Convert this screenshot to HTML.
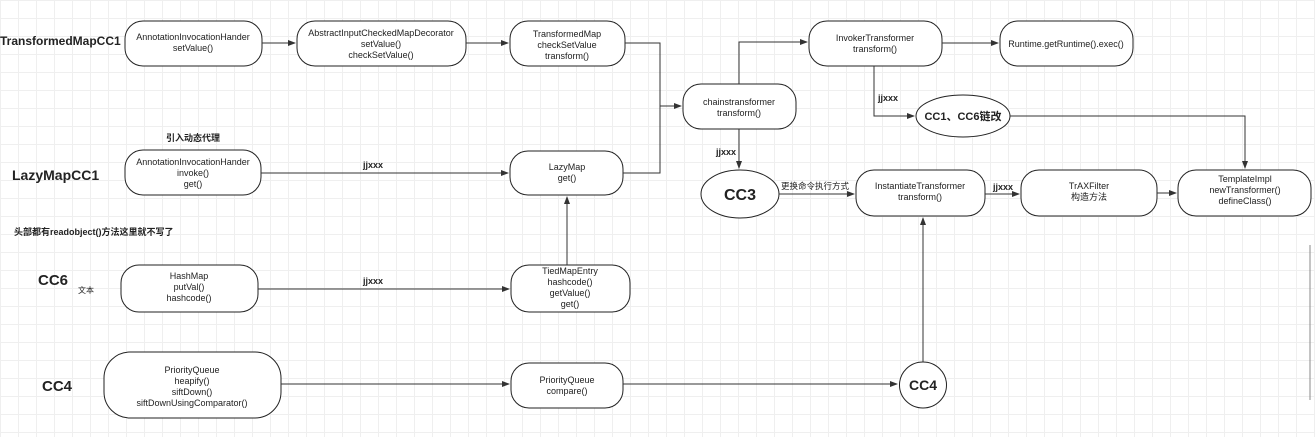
<!DOCTYPE html>
<html><head><meta charset="utf-8"><style>
body{margin:0;width:1315px;height:437px;overflow:hidden;background:#fff;
background-image:linear-gradient(#efefef 1px,transparent 1px),linear-gradient(90deg,#efefef 1px,transparent 1px);background-size:18px 18px;}
svg{position:absolute;left:0;top:0}
text{font-family:"Liberation Sans","Noto Sans CJK SC",sans-serif;font-size:9px;fill:#222}
.b{font-weight:bold;font-size:15px}
.m{font-weight:bold;font-size:9px}
</style></head><body>
<svg width="1315" height="437" viewBox="0 0 1315 437">
<defs><marker id="a" markerWidth="8" markerHeight="8" refX="7" refY="4" orient="auto" markerUnits="userSpaceOnUse"><path d="M0,1 L8,4 L0,7z" fill="#333"/></marker></defs>
<g fill="#fff" stroke="#222" stroke-width="1">
<rect x="125" y="21" width="137" height="45" rx="18"/>
<rect x="297" y="21" width="169" height="45" rx="18"/>
<rect x="510" y="21" width="115" height="45" rx="18"/>
<rect x="683" y="84" width="113" height="45" rx="18"/>
<rect x="809" y="21" width="133" height="45" rx="18"/>
<rect x="1000" y="21" width="133" height="45" rx="18"/>
<ellipse cx="963" cy="116" rx="47" ry="21"/>
<ellipse cx="740" cy="194" rx="39" ry="24"/>
<rect x="856" y="170" width="129" height="46" rx="18"/>
<rect x="1021" y="170" width="136" height="46" rx="18"/>
<rect x="1178" y="170" width="133" height="46" rx="18"/>
<rect x="125" y="150" width="136" height="45" rx="18"/>
<rect x="510" y="151" width="113" height="44" rx="18"/>
<rect x="121" y="265" width="137" height="47" rx="18"/>
<rect x="511" y="265" width="119" height="47" rx="18"/>
<rect x="104" y="352" width="177" height="66" rx="26"/>
<rect x="511" y="363" width="112" height="45" rx="18"/>
<ellipse cx="923" cy="385" rx="23.5" ry="23"/>
</g>
<g fill="none" stroke="#333" stroke-width="1">
<path d="M262,43H295" marker-end="url(#a)"/>
<path d="M466,43H508" marker-end="url(#a)"/>
<path d="M625,43H660V106H681" marker-end="url(#a)"/>
<path d="M623,173H660V106"/>
<path d="M739,84V42H807" marker-end="url(#a)"/>
<path d="M942,43H998" marker-end="url(#a)"/>
<path d="M874,66V116H914" marker-end="url(#a)"/>
<path d="M1010,116H1245V168" marker-end="url(#a)"/>
<path d="M739,129V168" marker-end="url(#a)"/>
<path d="M779,194H854" marker-end="url(#a)"/>
<path d="M985,194H1019" marker-end="url(#a)"/>
<path d="M1157,193H1176" marker-end="url(#a)"/>
<path d="M261,173H508" marker-end="url(#a)"/>
<path d="M258,289H509" marker-end="url(#a)"/>
<path d="M567,265V197" marker-end="url(#a)"/>
<path d="M281,384H509" marker-end="url(#a)"/>
<path d="M623,384H897" marker-end="url(#a)"/>
<path d="M923,362V218" marker-end="url(#a)"/>
</g>
<line x1="1310" y1="245" x2="1310" y2="400" stroke="#888"/>
<g text-anchor="middle">
<text x="193" y="40">AnnotationInvocationHander</text><text x="193" y="51">setValue()</text>
<text x="381" y="36">AbstractInputCheckedMapDecorator</text><text x="381" y="47">setValue()</text><text x="381" y="58">checkSetValue()</text>
<text x="567" y="37">TransformedMap</text><text x="567" y="48">checkSetValue</text><text x="567" y="59">transform()</text>
<text x="739" y="105">chainstransformer</text><text x="739" y="116">transform()</text>
<text x="875" y="41">InvokerTransformer</text><text x="875" y="52">transform()</text>
<text x="1066" y="47">Runtime.getRuntime().exec()</text>
<text x="963" y="120" class="m" style="font-size:11px">CC1、CC6链改</text>
<text x="740" y="200" class="b" style="font-size:16px">CC3</text>
<text x="920" y="189">InstantiateTransformer</text><text x="920" y="200">transform()</text>
<text x="1089" y="189">TrAXFilter</text><text x="1089" y="200">构造方法</text>
<text x="1245" y="182">TemplateImpl</text><text x="1245" y="193">newTransformer()</text><text x="1245" y="204">defineClass()</text>
<text x="193" y="165">AnnotationInvocationHander</text><text x="193" y="176">invoke()</text><text x="193" y="187">get()</text>
<text x="567" y="170">LazyMap</text><text x="567" y="181">get()</text>
<text x="189" y="279">HashMap</text><text x="189" y="290">putVal()</text><text x="189" y="301">hashcode()</text>
<text x="570" y="274">TiedMapEntry</text><text x="570" y="285">hashcode()</text><text x="570" y="296">getValue()</text><text x="570" y="307">get()</text>
<text x="192" y="373">PriorityQueue</text><text x="192" y="384">heapify()</text><text x="192" y="395">siftDown()</text><text x="192" y="406">siftDownUsingComparator()</text>
<text x="567" y="383">PriorityQueue</text><text x="567" y="394">compare()</text>
<text x="923" y="390" class="b" style="font-size:14px">CC4</text>
<text x="373" y="168" class="m">jjxxx</text>
<text x="373" y="284" class="m">jjxxx</text>
</g>
<text x="0" y="45" class="b" style="font-size:12px">TransformedMapCC1</text>
<text x="12" y="180" class="b" style="font-size:14px">LazyMapCC1</text>
<text x="38" y="285" class="b" style="font-size:15px">CC6</text>
<text x="78" y="293" style="font-size:8px">文本</text>
<text x="42" y="391" class="b" style="font-size:15px">CC4</text>
<text x="166" y="141" class="m">引入动态代理</text>
<text x="14" y="235" class="m">头部都有readobject()方法这里就不写了</text>
<text x="878" y="101" class="m">jjxxx</text>
<text x="716" y="155" class="m">jjxxx</text>
<text x="781" y="189" style="font-size:8.5px">更换命令执行方式</text>
<text x="993" y="190" class="m">jjxxx</text>
</svg>
</body></html>
